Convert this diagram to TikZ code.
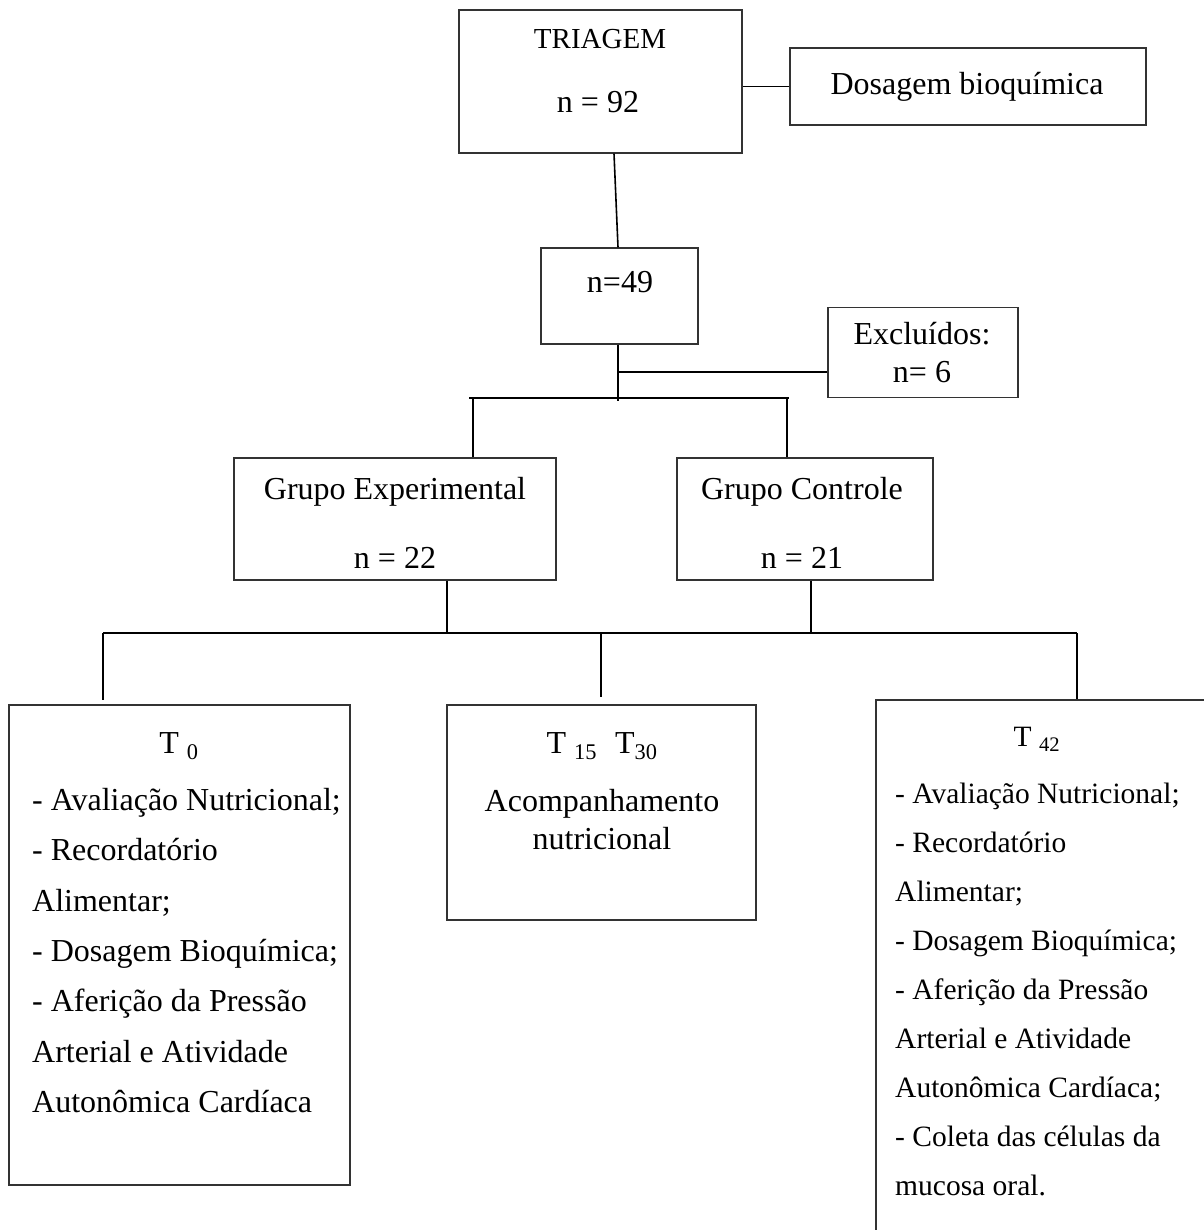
\documentclass[tikz,border=0pt]{standalone}
\usepackage{fontspec}
\setmainfont{Liberation Serif}
\tikzset{
  box/.style={draw=black!80, line width=1.2pt, inner sep=0pt},
  link/.style={line width=1.6pt},
  txt/.style={inner sep=0pt, anchor=base},
  txtl/.style={inner sep=0pt, anchor=base west},
  small/.style={font=\fontsize{29.5}{35}\selectfont},
}
\begin{document}
\begin{tikzpicture}[x=1pt, y=-1pt, font=\fontsize{32}{38}\selectfont]
\useasboundingbox (0,0) rectangle (1203,1230);

% boxes
\node[box, minimum width=283pt, minimum height=143pt] at (600.5,81.5) (triagem) {};
\node[box, minimum width=356pt, minimum height=77pt] at (968,86.5) (dosagem) {};
\node[box, minimum width=157pt, minimum height=96pt] at (619.5,296) (n49) {};
\node[box, minimum width=190pt, minimum height=90pt] at (923,352.5) (excl) {};
\node[box, minimum width=322pt, minimum height=122pt] at (395,519) (ge) {};
\node[box, minimum width=256pt, minimum height=122pt] at (805,519) (gc) {};
\node[box, minimum width=341pt, minimum height=480pt] at (179.5,945) (t0) {};
\node[box, minimum width=309pt, minimum height=215pt] at (601.5,812.5) (t15) {};
\node[box, minimum width=336pt, minimum height=540pt] at (1044,970) (t42) {};

% texts
\node[txt, font=\fontsize{29}{35}\selectfont] at (600,49) (triagem-a) {TRIAGEM};
\node[txt] at (598,113) (triagem-b) {n = 92};
\node[txt] at (967,95) (dosagem-a) {Dosagem bioquímica};
\node[txt] at (620,292) (n49-a) {n=49};
\node[txt] at (922,344) (excl-a) {Excluídos:};
\node[txt] at (922,382) (excl-b) {n= 6};
\node[txt] at (395,499) (ge-a) {Grupo Experimental};
\node[txt] at (395,568) (ge-b) {n = 22};
\node[txt] at (802,499) (gc-a) {Grupo Controle};
\node[txt] at (802,568) (gc-b) {n = 21};

\node[txt] at (179,753) (t0-a) {T \textsubscript{0}};
\node[txtl] at (32,810) (t0-b) {- Avaliação Nutricional;};
\node[txtl] at (32,860) (t0-c) {- Recordatório};
\node[txtl] at (32,911) (t0-d) {Alimentar;};
\node[txtl] at (32,961) (t0-e) {- Dosagem Bioquímica;};
\node[txtl] at (32,1011) (t0-f) {- Aferição da Pressão};
\node[txtl] at (32,1062) (t0-g) {Arterial e Atividade};
\node[txtl] at (32,1112) (t0-h) {Autonômica Cardíaca};

\node[txt] at (602,753) (t15-a) {T \textsubscript{15}\hspace{18pt}T\textsubscript{30}};
\node[txt] at (602,811) (t15-b) {Acompanhamento};
\node[txt] at (602,849) (t15-c) {nutricional};

\node[txt, small] at (1037,746) (t42-a) {T \textsubscript{42}};
\node[txtl, small] at (895,803) (t42-b) {- Avaliação Nutricional;};
\node[txtl, small] at (895,852) (t42-c) {- Recordatório};
\node[txtl, small] at (895,901) (t42-d) {Alimentar;};
\node[txtl, small] at (895,950) (t42-e) {- Dosagem Bioquímica;};
\node[txtl, small] at (895,999) (t42-f) {- Aferição da Pressão};
\node[txtl, small] at (895,1048) (t42-g) {Arterial e Atividade};
\node[txtl, small] at (895,1097) (t42-h) {Autonômica Cardíaca;};
\node[txtl, small] at (895,1146) (t42-i) {- Coleta das células da};
\node[txtl, small] at (895,1195) (t42-j) {mucosa oral.};

% connectors
\coordinate (split) at (618,372);
\coordinate (fork) at (618,401);
\coordinate (barA-l) at (469,398);
\coordinate (barA-r) at (789,398);
\coordinate (ge-in) at (473,398);
\coordinate (gc-in) at (787,398);
\coordinate (ge-out) at (447,633);
\coordinate (gc-out) at (811,633);
\coordinate (barB-l) at (103,633);
\coordinate (barB-r) at (1077,633);
\coordinate (t15-in) at (601,633);

\draw[link] (dosagem.west) -- (dosagem.west -| triagem.east);
\draw[link] ([xshift=13.5pt]triagem.south) -- ([xshift=-1.5pt]n49.north);
\draw[link] (n49.south -| fork) -- (fork);
\draw[link] (split) -- (split -| excl.west);
\draw[link] (barA-l) -- (barA-r);
\draw[link] (ge-in) -- (ge-in |- ge.north);
\draw[link] (gc-in) -- (gc-in |- gc.north);
\draw[link] (ge.south -| ge-out) -- (ge-out);
\draw[link] (gc.south -| gc-out) -- (gc-out);
\draw[link] (barB-l) -- (barB-r);
\draw[link, shorten >=4pt] (barB-l) -- (barB-l |- t0.north);
\draw[link, shorten >=7pt] (t15-in) -- (t15-in |- t15.north);
\draw[link] (barB-r) -- (barB-r |- t42.north);

\end{tikzpicture}
\end{document}
